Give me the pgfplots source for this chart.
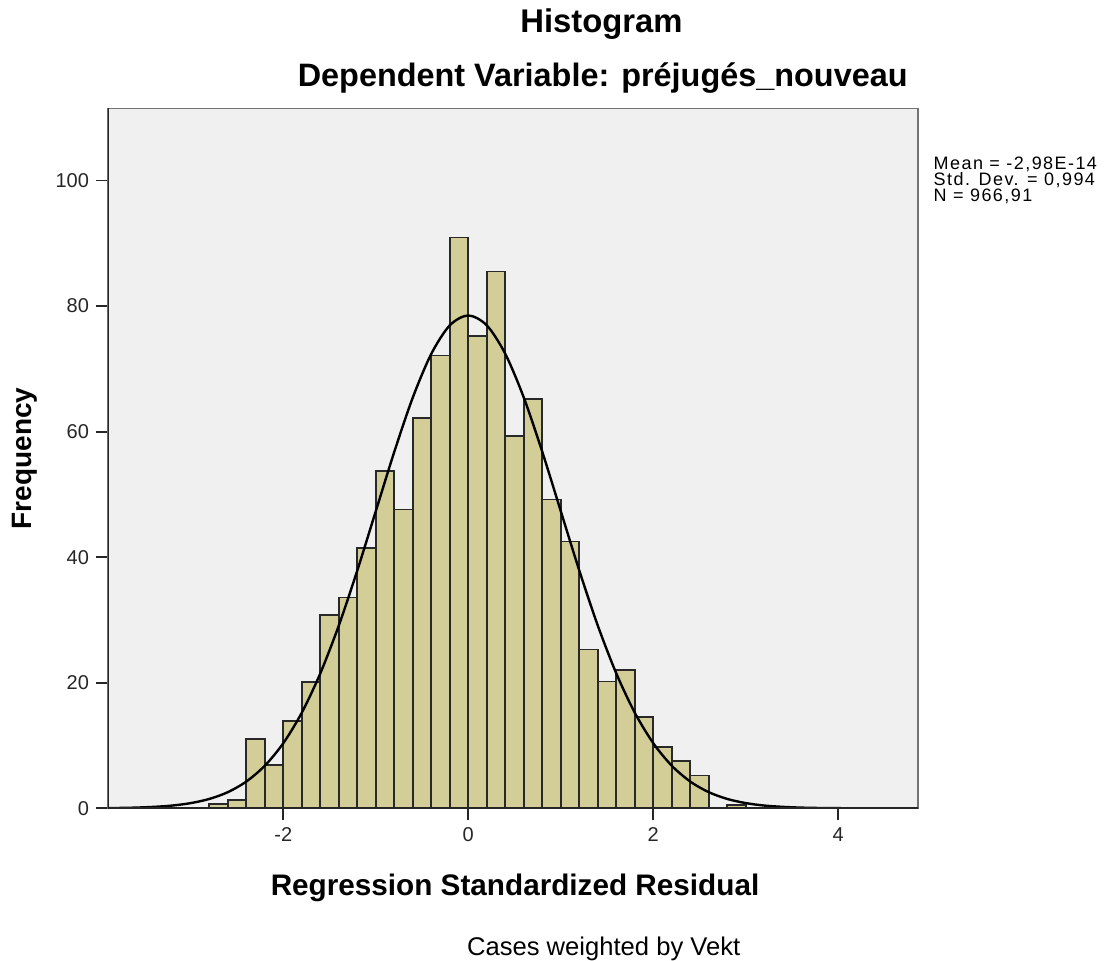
\documentclass[border=0pt]{standalone}
\usepackage{fontspec}
\setmainfont{Liberation Sans}
\newfontfamily\statsfont[LetterSpace=8]{Liberation Sans}
\usepackage{pgfplots}
\pgfplotsset{compat=1.18}
\definecolor{barfill}{RGB}{211,206,152}
\definecolor{bgc}{RGB}{240,240,240}
\definecolor{edgec}{RGB}{40,40,40}
\begin{document}
\begin{tikzpicture}
\path[use as bounding box] (-54pt,-75.85pt) rectangle (499pt,404.15pt);
\begin{axis}[
  at={(0pt,0pt)}, anchor=south west,
  scale only axis, width=405pt, height=350pt,
  xmin=-3.895, xmax=4.862, ymin=0, ymax=111.5,
  axis background/.style={fill=bgc},
  axis line style={draw=black!55, line width=0.8pt},
  xtick={-2,0,2,4}, ytick={0,20,40,60,80,100},
  xtick pos=bottom, ytick pos=left,
  tick align=outside, major tick length=6pt,
  tick style={line width=0.9pt, color=black!85},
  ticklabel style={font=\fontsize{10}{12}\selectfont, text=black!85},
  /pgf/number format/assume math mode=true,
  xlabel={Regression Standardized Residual},
  ylabel={Frequency},
  xlabel style={font=\bfseries\fontsize{14.85}{17}\selectfont, at={(axis description cs:0.5025,-0.1239)}, anchor=base},
  ylabel style={font=\bfseries\fontsize{14}{17}\selectfont, at={(axis description cs:-0.1025,0.5)}, anchor=center},
]
\addplot[ybar interval, fill=barfill, draw=edgec, line width=0.8pt] table {
x y
-2.8 0.7
-2.6 1.3
-2.4 11.0
-2.2 6.9
-2.0 13.9
-1.8 20.1
-1.6 30.8
-1.4 33.6
-1.2 41.5
-1.0 53.7
-0.8 47.6
-0.6 62.2
-0.4 72.1
-0.2 90.9
0.0 75.2
0.2 85.5
0.4 59.3
0.6 65.2
0.8 49.2
1.0 42.5
1.2 25.3
1.4 20.2
1.6 22.0
1.8 14.5
2.0 9.8
2.2 7.5
2.4 5.2
2.6 0
2.8 0.5
3.0 0
};
\addplot[black, line width=1.2pt, smooth] coordinates {
(-3.895,0.03) (-3.8,0.05) (-3.6,0.11) (-3.4,0.23) (-3.2,0.44) (-3.0,0.83)
(-2.8,1.49) (-2.6,2.57) (-2.4,4.26) (-2.2,6.78) (-2.0,10.37) (-1.8,15.23)
(-1.6,21.49) (-1.4,29.11) (-1.2,37.88) (-1.0,47.33) (-0.8,56.78) (-0.6,65.43)
(-0.4,72.39) (-0.2,76.93) (0.0,78.5) (0.2,76.93) (0.4,72.39) (0.6,65.43)
(0.8,56.78) (1.0,47.33) (1.2,37.88) (1.4,29.11) (1.6,21.49) (1.8,15.23)
(2.0,10.37) (2.2,6.78) (2.4,4.26) (2.6,2.57) (2.8,1.49) (3.0,0.83)
(3.2,0.44) (3.4,0.23) (3.6,0.11) (3.8,0.05) (4.0,0.02) (4.4,0.004) (4.862,0)
};
\draw[line width=1.4pt, black!85] (rel axis cs:0,1) -- (rel axis cs:0,0) -- (rel axis cs:1,0);
\end{axis}
\node[anchor=base east, font=\bfseries\fontsize{16.4}{19}\selectfont, inner sep=0pt] at (287.5pt,387.65pt) {Histogram};
\node[anchor=base east, font=\bfseries\fontsize{16.2}{19}\selectfont, inner sep=0pt] at (400pt,360.65pt) {Dependent Variable: préjugés\_nouveau};
\node[anchor=base west, font=\statsfont\fontsize{9}{10}\selectfont, inner sep=0pt] at (412.65pt,319.15pt) {Mean = -2,98E-14};
\node[anchor=base west, font=\statsfont\fontsize{9}{10}\selectfont, inner sep=0pt] at (412.65pt,311.25pt) {Std. Dev. = 0,994};
\node[anchor=base west, font=\statsfont\fontsize{9}{10}\selectfont, inner sep=0pt] at (412.65pt,303.3pt) {N = 966,91};
\node[anchor=base west, font=\fontsize{12.8}{15}\selectfont, inner sep=0pt] at (179.35pt,-73.35pt) {Cases weighted by Vekt};
\end{tikzpicture}
\end{document}
